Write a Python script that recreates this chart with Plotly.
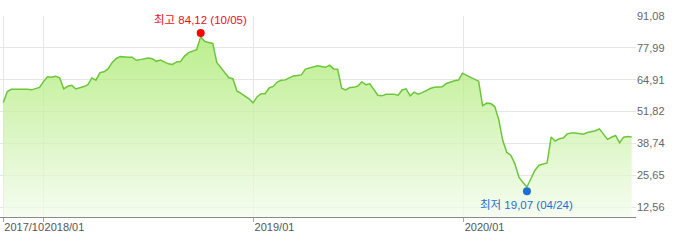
import pandas as pd
import plotly.graph_objects as go

# Weekly prices (week start dates)
dates = pd.date_range("2017-10-23", periods=157, freq="7D")
values = [
    55.51, 60.02, 60.96, 60.96, 60.96, 61.13, 60.92, 60.72, 61.13, 61.70,
    64.21, 66.09, 65.93, 66.26, 65.68, 61.13, 62.20, 62.61, 61.09, 61.54,
    62.07, 62.89, 65.64, 64.70, 67.82, 68.15, 69.33, 71.88, 73.56, 74.38,
    74.18, 74.13, 74.13, 72.90, 73.15, 73.52, 73.85, 73.48, 72.45, 72.99,
    72.08, 71.43, 71.18, 72.21, 72.33, 74.59, 76.02, 76.59, 77.21, 82.59,
    80.66, 80.21, 79.80, 71.96, 69.93, 67.70, 65.70, 65.30, 60.30, 59.28,
    58.30, 57.03, 55.39, 57.81, 59.16, 59.16, 61.50, 62.11, 63.92, 64.66,
    64.82, 65.64, 66.46, 66.67, 66.87, 69.25, 69.79, 70.07, 70.61, 70.28,
    69.99, 70.89, 69.33, 69.21, 61.42, 60.72, 61.66, 61.75, 62.28, 63.99,
    62.85, 63.18, 60.88, 58.50, 58.26, 58.87, 58.96, 58.96, 58.42, 60.68,
    61.17, 58.26, 59.78, 58.96, 59.57, 60.51, 61.25, 61.75, 61.83, 62.03,
    63.34, 63.99, 64.49, 64.74, 67.57, 66.67, 65.80, 65.07, 64.29, 54.15,
    55.26, 55.10, 53.87, 48.49, 39.87, 34.99, 33.85, 30.32, 24.82, 22.68,
    20.80, 24.28, 27.69, 29.74, 30.28, 30.65, 41.31, 39.67, 40.62, 40.90,
    42.63, 43.03, 42.95, 42.83, 42.50, 43.20, 43.40, 43.90, 44.67, 42.58,
    40.37, 41.23, 41.97, 38.97, 41.27, 41.56, 41.36,
]

high_date, high_value, high_label = "2018-10-01", 84.12, "10/05"
low_date, low_value, low_label = "2020-04-20", 19.07, "04/24"

y_ticks = [12.56, 25.65, 38.74, 51.82, 64.91, 77.99, 91.08]
x_ticks = ["2017-10-23", "2018-01-01", "2019-01-01", "2020-01-01"]
x_tick_labels = ["2017/10", "2018/01", "2019/01", "2020/01"]


def fmt(v):
    return f"{v:.2f}".replace(".", ",")


fig = go.Figure()
fig.add_trace(go.Scatter(
    x=dates, y=values, mode="lines",
    line=dict(color="#6cc63a", width=1.5),
    fill="tozeroy",
    fillgradient=dict(
        type="vertical",
        colorscale=[[0, "rgba(243,252,236,0.75)"], [1, "rgba(163,232,100,0.74)"]],
        start=8.46, stop=84,
    ),
    hoverinfo="skip",
))
fig.add_trace(go.Scatter(
    x=[high_date], y=[high_value], mode="markers",
    marker=dict(color="#ff0000", size=8), hoverinfo="skip",
))
fig.add_trace(go.Scatter(
    x=[low_date], y=[low_value], mode="markers",
    marker=dict(color="#1f6ed4", size=8), hoverinfo="skip",
))

cjk = "Liberation Sans, Noto Sans CJK KR, sans-serif"
fig.add_annotation(
    x=high_date, y=high_value, text=f"최고 {fmt(high_value)} ({high_label})",
    showarrow=False, yanchor="bottom", yshift=5,
    font=dict(family=cjk, size=11.5, color="#e8101a"),
)
fig.add_annotation(
    x=low_date, y=low_value, text=f"최저 {fmt(low_value)} ({low_label})",
    showarrow=False, yanchor="top", yshift=-6,
    font=dict(family=cjk, size=11.5, color="#1f6ed4"),
)

fig.update_layout(
    width=700, height=243,
    margin=dict(l=0, r=64, t=16, b=26, autoexpand=False),
    paper_bgcolor="white", plot_bgcolor="white",
    showlegend=False,
    font=dict(family=cjk, size=11, color="#666"),
    xaxis=dict(
        type="date",
        range=["2017-10-17 07:00", "2020-10-26 12:00"],
        tickvals=x_ticks, ticktext=x_tick_labels,
        ticklabelposition="outside right", tickangle=0,
        showgrid=True, gridcolor="#e6e6e6", gridwidth=1,
        showline=True, linecolor="#8a8a8a", linewidth=1,
        ticks="outside", ticklen=4, tickcolor="#aaaaaa",
        tickfont=dict(size=11, color="#555"),
        zeroline=False, fixedrange=True, automargin=False,
    ),
    yaxis=dict(
        side="right",
        range=[8.46, 91.08],
        tickvals=y_ticks, ticktext=[fmt(v) for v in y_ticks],
        showgrid=True, gridcolor="#e6e6e6", gridwidth=1,
        ticks="", showline=False,
        tickfont=dict(size=11, color="#666"),
        zeroline=False, fixedrange=True, automargin=False,
    ),
)

fig.write_html("out.html")
